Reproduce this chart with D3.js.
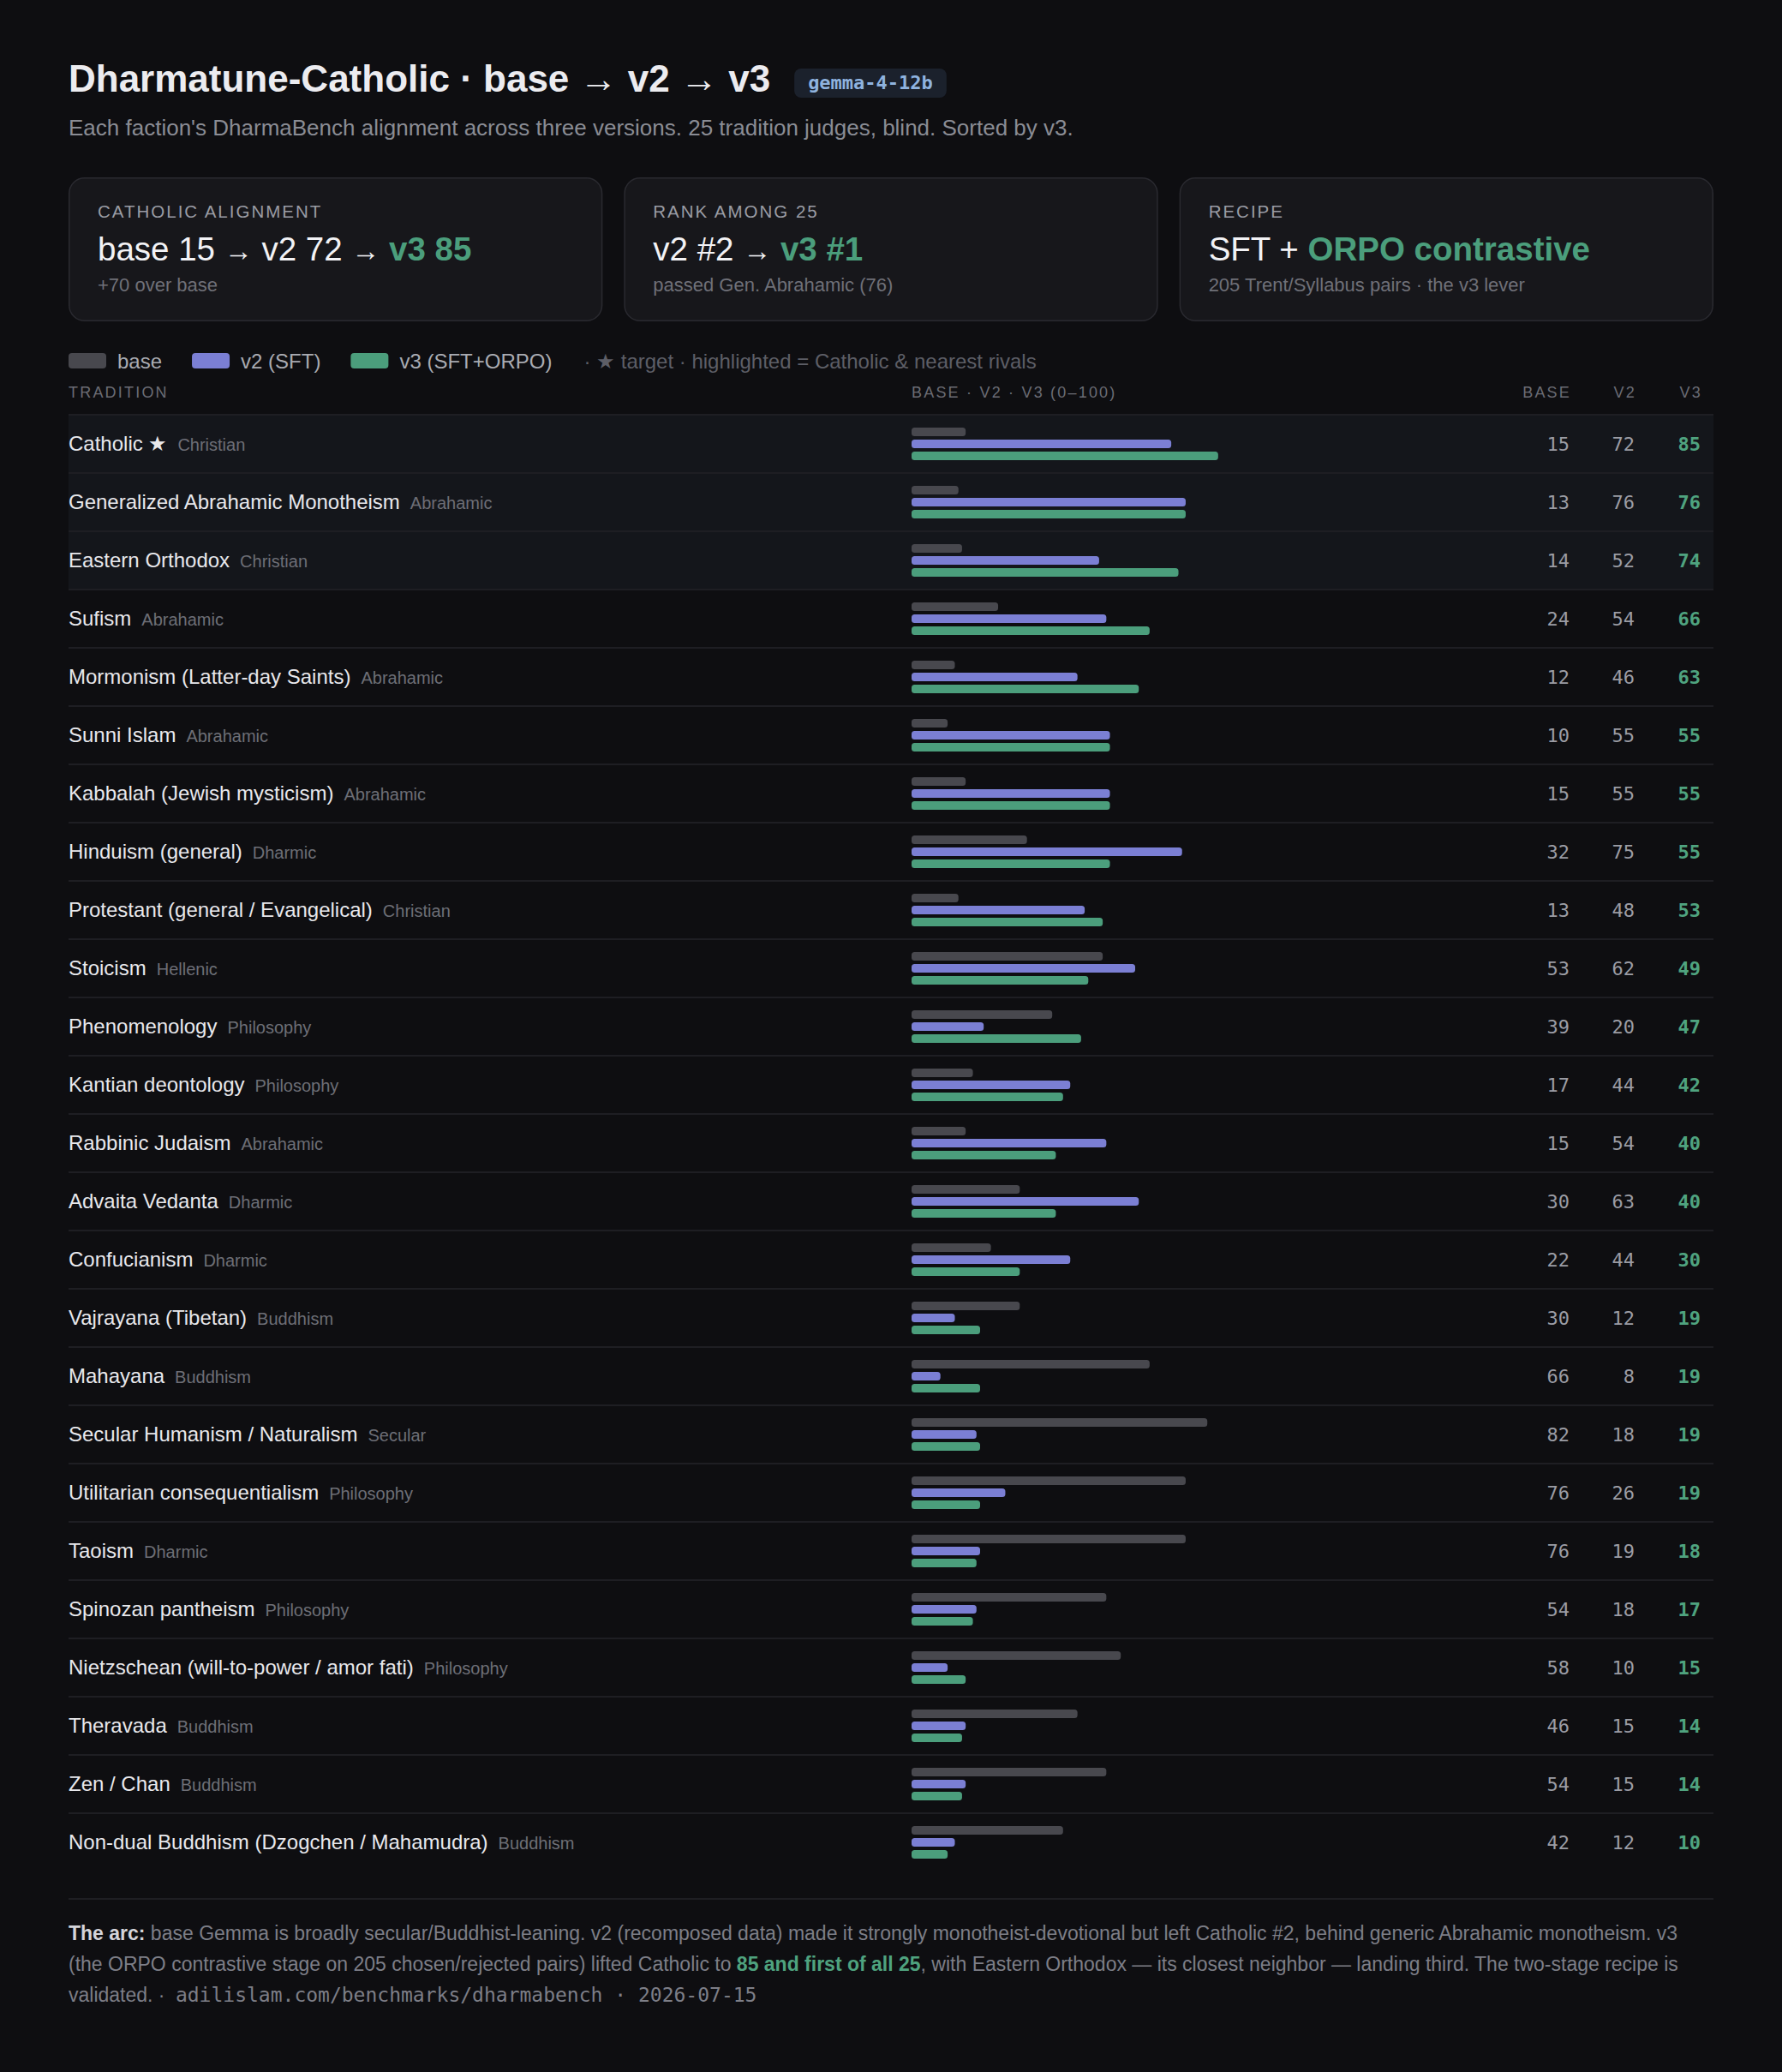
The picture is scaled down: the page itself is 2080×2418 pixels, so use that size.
<!DOCTYPE html>
<html><head><meta charset="utf-8">
<script src="https://cdn.jsdelivr.net/npm/d3@7"></script>
<style>
html,body{margin:0;padding:0;background:#0e0e11;}
svg{display:block;}
</style></head>
<body>
<script>
const traditions = ["Catholic ★","Generalized Abrahamic Monotheism","Eastern Orthodox","Sufism","Mormonism (Latter-day Saints)","Sunni Islam","Kabbalah (Jewish mysticism)","Hinduism (general)","Protestant (general / Evangelical)","Stoicism","Phenomenology","Kantian deontology","Rabbinic Judaism","Advaita Vedanta","Confucianism","Vajrayana (Tibetan)","Mahayana","Secular Humanism / Naturalism","Utilitarian consequentialism","Taoism","Spinozan pantheism","Nietzschean (will-to-power / amor fati)","Theravada","Zen / Chan","Non-dual Buddhism (Dzogchen / Mahamudra)"];
const families = ["Christian","Abrahamic","Christian","Abrahamic","Abrahamic","Abrahamic","Abrahamic","Dharmic","Christian","Hellenic","Philosophy","Philosophy","Abrahamic","Dharmic","Dharmic","Buddhism","Buddhism","Secular","Philosophy","Dharmic","Philosophy","Philosophy","Buddhism","Buddhism","Buddhism"];
const baseScores = [15,13,14,24,12,10,15,32,13,53,39,17,15,30,22,30,66,82,76,76,54,58,46,54,42];
const v2Scores   = [72,76,52,54,46,55,55,75,48,62,20,44,54,63,44,12,8,18,26,19,18,10,15,15,12];
const v3Scores   = [85,76,74,66,63,55,55,55,53,49,47,42,40,40,30,19,19,19,19,18,17,15,14,14,10];
const highlighted = ["Catholic ★","Generalized Abrahamic Monotheism","Eastern Orthodox"];
const seriesNames = ["base","v2 (SFT)","v3 (SFT+ORPO)"];
const columnHeaders = ["BASE","V2","V3"];

const W = 2080, H = 2418;
const SANS = "'Liberation Sans', Arial, Helvetica, sans-serif";
const MONO = "'DejaVu Sans Mono', monospace";
const C = {bg:"#0e0e11", base:"#48484e", v2:"#7b7fd4", v3:"#4b9e7c", text:"#ececf0", muted:"#8a8c94", dim:"#66666e", card:"#17171b", cardBorder:"#2a2a30", rowHi:"#14161b", line:"#1e1e23"};

const svg = d3.select("body").append("svg").attr("width", W).attr("height", H);
svg.append("rect").attr("width", W).attr("height", H).attr("fill", C.bg);

// Title
const title = svg.append("text").attr("x", 80).attr("y", 107)
  .attr("font-family", SANS).attr("font-size", 44).attr("font-weight", 700).attr("fill", C.text)
  .text("Dharmatune-Catholic · base → v2 → v3");
const tw = title.node().getComputedTextLength();
const badgeX = 80 + tw + 28;
const badgeT = svg.append("text").attr("x", badgeX + 16).attr("y", 104)
  .attr("font-family", MONO).attr("font-size", 22).attr("font-weight", 700).attr("fill", "#8fb3df")
  .text("gemma-4-12b");
const bw = badgeT.node().getComputedTextLength();
svg.append("rect").attr("x", badgeX).attr("y", 80).attr("width", bw + 32).attr("height", 34).attr("rx", 8).attr("fill", "#1b212c");
badgeT.raise();

svg.append("text").attr("x", 80).attr("y", 158)
  .attr("font-family", SANS).attr("font-size", 26).attr("fill", C.muted)
  .text("Each faction's DharmaBench alignment across three versions. 25 tradition judges, blind. Sorted by v3.");

// Cards
const cards = [
  {label:"CATHOLIC ALIGNMENT", parts:[["base 15 ",false],["→",false,true],[" v2 72 ",false],["→",false,true],[" v3 85",true]], sub:"+70 over base"},
  {label:"RANK AMONG 25", parts:[["v2 #2 ",false],["→",false,true],[" v3 #1",true]], sub:"passed Gen. Abrahamic (76)"},
  {label:"RECIPE", parts:[["SFT + ",false],["ORPO contrastive",true]], sub:"205 Trent/Syllabus pairs · the v3 lever"}
];
const cardX = d3.scaleBand().domain(d3.range(3)).range([80, 2000]).paddingInner(0.0385).paddingOuter(0);
cards.forEach((c, i) => {
  const x = cardX(i), w = cardX.bandwidth();
  const g = svg.append("g");
  g.append("rect").attr("x", x + 0.75).attr("y", 207.75).attr("width", w - 1.5).attr("height", 166.5).attr("rx", 18)
    .attr("fill", C.card).attr("stroke", C.cardBorder).attr("stroke-width", 1.5);
  g.append("text").attr("x", x + 34).attr("y", 254).attr("font-family", SANS).attr("font-size", 20.5)
    .attr("letter-spacing", 2).attr("fill", "#9a9ca4").text(c.label);
  const t = g.append("text").attr("x", x + 34).attr("y", 304).attr("font-family", SANS).attr("font-size", 38.5).attr("fill", "#f2f2f5");
  c.parts.forEach(p => {
    const ts = t.append("tspan").text(p[0]);
    if (p[1]) ts.attr("fill", C.v3).attr("font-weight", 700);
    if (p[2]) ts.attr("font-size", 33);
  });
  g.append("text").attr("x", x + 34).attr("y", 340).attr("font-family", SANS).attr("font-size", 22).attr("fill", "#6f7078").text(c.sub);
});

// Legend
const legColors = [C.base, C.v2, C.v3];
let lx = 80;
seriesNames.forEach((n, i) => {
  svg.append("rect").attr("x", lx).attr("y", 412).attr("width", 44).attr("height", 18).attr("rx", 4).attr("fill", legColors[i]);
  const t = svg.append("text").attr("x", lx + 57).attr("y", 430).attr("font-family", SANS).attr("font-size", 24).attr("fill", "#a9abb2").text(n);
  lx = lx + 57 + t.node().getComputedTextLength() + 35;
});
svg.append("text").attr("x", lx + 2).attr("y", 430).attr("font-family", SANS).attr("font-size", 24).attr("fill", "#5d5e66")
  .text("· ★ target · highlighted = Catholic & nearest rivals");

// Table
const rowTop = 484, rowH = 68;
const y = d3.scaleBand().domain(traditions).range([rowTop, rowTop + rowH * traditions.length]);
const x = d3.scaleLinear().domain([0, 100]).range([1064, 1485]);
const colRight = [1832, 1908, 1985];

svg.append("text").attr("x", 80).attr("y", 464).attr("font-family", SANS).attr("font-size", 18).attr("letter-spacing", 2.2).attr("fill", "#6b6c74").text("TRADITION");
svg.append("text").attr("x", x(0)).attr("y", 464).attr("font-family", SANS).attr("font-size", 18).attr("letter-spacing", 2.2).attr("fill", "#6b6c74").text("BASE · V2 · V3 (0–100)");
columnHeaders.forEach((h, i) => {
  svg.append("text").attr("x", colRight[i] + 2).attr("y", 464).attr("text-anchor", "end").attr("font-family", SANS).attr("font-size", 18).attr("letter-spacing", 2.2).attr("fill", "#6b6c74").text(h);
});

const rows = svg.append("g").selectAll("g").data(traditions).join("g")
  .attr("transform", d => `translate(0,${y(d)})`);
rows.filter(d => highlighted.includes(d)).append("rect")
  .attr("x", 80).attr("y", 0).attr("width", 1920).attr("height", rowH).attr("fill", C.rowHi);
rows.append("rect").attr("x", 80).attr("y", -1).attr("width", 1920).attr("height", 2).attr("fill", C.line);

const nameT = rows.append("text").attr("x", 80).attr("y", rowH / 2 + 8).attr("font-family", SANS);
nameT.append("tspan").attr("font-size", 24).attr("fill", "#e8e8ec").text(d => d);
nameT.append("tspan").attr("dx", 12).attr("font-size", 20).attr("fill", "#6d6e76").text((d, i) => families[i]);

const seriesVals = [baseScores, v2Scores, v3Scores];
seriesVals.forEach((vals, s) => {
  rows.append("rect")
    .attr("x", x(0)).attr("y", 15 + s * 14)
    .attr("width", (d, i) => x(vals[i]) - x(0)).attr("height", 10).attr("rx", 3.5)
    .attr("fill", legColors[s]);
  rows.append("text").attr("x", colRight[s]).attr("y", rowH / 2 + 8).attr("text-anchor", "end")
    .attr("font-family", MONO).attr("font-size", 22)
    .attr("font-weight", s === 2 ? 700 : 400)
    .attr("fill", s === 2 ? "#4fa37f" : "#9b9ca4")
    .text((d, i) => vals[i]);
});

// Footer
svg.append("rect").attr("x", 80).attr("y", 2215).attr("width", 1920).attr("height", 2).attr("fill", C.line);
const footLines = [
  [["The arc:", "b"], [" base Gemma is broadly secular/Buddhist-leaning. v2 (recomposed data) made it strongly monotheist-devotional but left Catholic #2, behind generic Abrahamic monotheism. v3", ""]],
  [["(the ORPO contrastive stage on 205 chosen/rejected pairs) lifted Catholic to ", ""], ["85 and first of all 25", "g"], [", with Eastern Orthodox — its closest neighbor — landing third. The two-stage recipe is", ""]],
  [["validated. · ", ""], ["adilislam.com/benchmarks/dharmabench · 2026-07-15", "m"]]
];
footLines.forEach((line, li) => {
  const t = svg.append("text").attr("x", 80).attr("y", 2264 + li * 36).attr("font-family", SANS).attr("font-size", 23).attr("fill", "#7d7e87");
  line.forEach(([txt, st]) => {
    const ts = t.append("tspan").text(txt);
    if (st === "b") ts.attr("font-weight", 700).attr("fill", "#d4d4da");
    if (st === "g") ts.attr("font-weight", 700).attr("fill", "#4fa37f");
    if (st === "m") ts.attr("font-family", MONO).attr("font-size", 23).attr("dx", 6);
  });
});
</script>
</body></html>
